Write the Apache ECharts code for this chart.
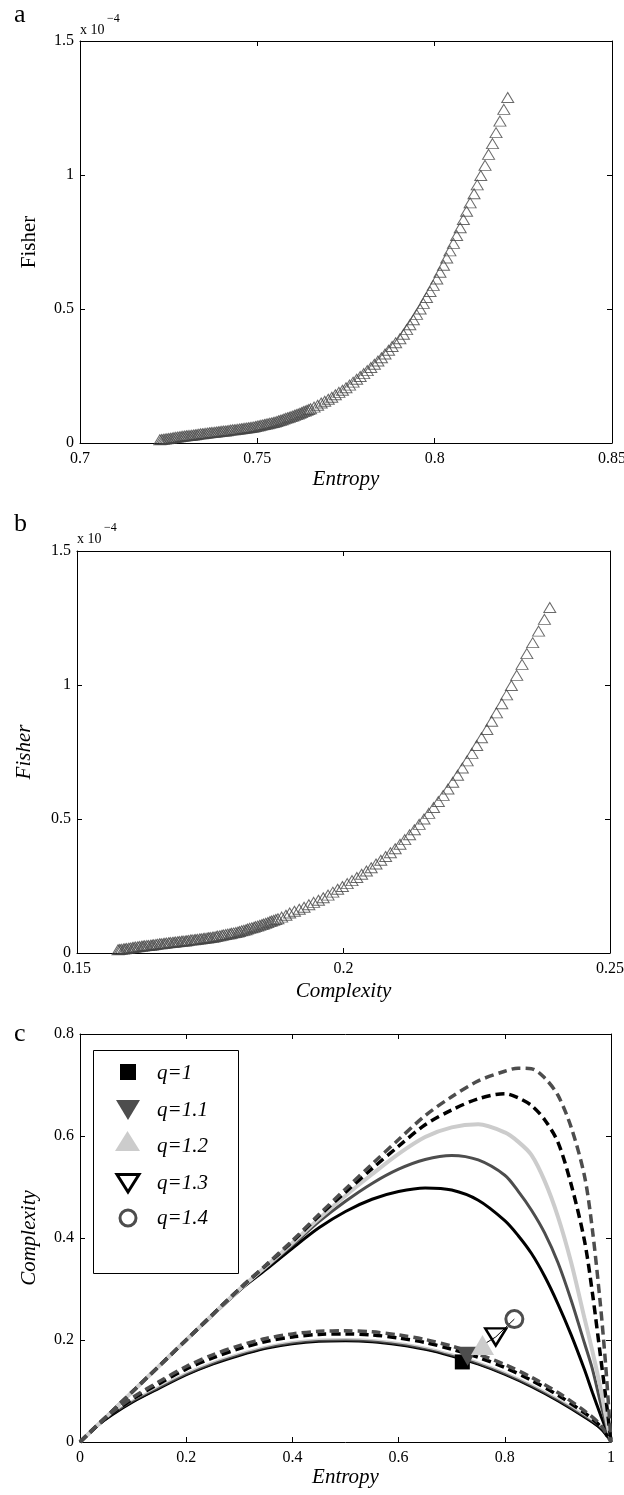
<!DOCTYPE html>
<html>
<head>
<meta charset="utf-8">
<script src="https://cdn.jsdelivr.net/npm/echarts@6.0.0/dist/echarts.min.js"></script>
<style>
html, body { margin: 0; padding: 0; background: #fff; }
#chart { width: 624px; height: 1495px; }
</style>
</head>
<body>
<div id="chart"></div>
<script>
var serif = '"Liberation Serif", "DejaVu Serif", serif';

// panels a and b: one triangle per step, Fisher given in units of 1e-4
var entropyA = [
  0.7225, 0.7230, 0.7235, 0.7240, 0.7245, 0.7250, 0.7255, 0.7260, 0.7265, 0.7270,
  0.7275, 0.7280, 0.7285, 0.7290, 0.7295, 0.7300, 0.7305, 0.7310, 0.7315, 0.7320,
  0.7325, 0.7330, 0.7335, 0.7340, 0.7345, 0.7350, 0.7355, 0.7360, 0.7365, 0.7370,
  0.7375, 0.7380, 0.7385, 0.7390, 0.7395, 0.7400, 0.7405, 0.7410, 0.7415, 0.7420,
  0.7425, 0.7430, 0.7435, 0.7440, 0.7445, 0.7450, 0.7455, 0.7460, 0.7465, 0.7470,
  0.7475, 0.7480, 0.7485, 0.7490, 0.7495, 0.7500, 0.7505, 0.7510, 0.7515, 0.7520,
  0.7525, 0.7530, 0.7535, 0.7540, 0.7545, 0.7550, 0.7555, 0.7560, 0.7565, 0.7570,
  0.7575, 0.7580, 0.7585, 0.7590, 0.7595, 0.7600, 0.7605, 0.7610, 0.7615, 0.7620,
  0.7625, 0.7630, 0.7635, 0.7640, 0.7645,
  0.765, 0.766, 0.767, 0.768, 0.769, 0.770, 0.771, 0.772, 0.773, 0.774,
  0.775, 0.776, 0.777, 0.778, 0.779, 0.780, 0.781, 0.782, 0.783, 0.784,
  0.785, 0.786, 0.787, 0.788, 0.789,
  0.7902, 0.7912, 0.7921, 0.7930, 0.7940, 0.7949, 0.7959, 0.7968, 0.7977, 0.7987,
  0.7996, 0.8006, 0.8015, 0.8025, 0.8034, 0.8043, 0.8053, 0.8062, 0.8072, 0.8081,
  0.8090, 0.8100, 0.8111, 0.8120, 0.8130, 0.8142, 0.8152, 0.8163, 0.8173, 0.8184,
  0.8195, 0.8206
];
var fisher = [
  0.0120, 0.0130, 0.0140, 0.0150, 0.0160, 0.0170, 0.0180, 0.0190, 0.0200, 0.0210,
  0.0220, 0.0230, 0.0240, 0.0250, 0.0260, 0.0270, 0.0275, 0.0280, 0.0290, 0.0300,
  0.0310, 0.0320, 0.0330, 0.0340, 0.0345, 0.0350, 0.0360, 0.0370, 0.0380, 0.0390,
  0.0395, 0.0400, 0.0410, 0.0420, 0.0430, 0.0440, 0.0445, 0.0450, 0.0460, 0.0470,
  0.0480, 0.0490, 0.0495, 0.0500, 0.0510, 0.0520, 0.0530, 0.0540, 0.0550, 0.0560,
  0.0570, 0.0580, 0.0590, 0.0600, 0.0615, 0.0630, 0.0645, 0.0660, 0.0675, 0.0690,
  0.0705, 0.0720, 0.0735, 0.0750, 0.0765, 0.0780, 0.0805, 0.0830, 0.0850, 0.0870,
  0.0895, 0.0920, 0.0940, 0.0960, 0.0985, 0.1010, 0.1035, 0.1060, 0.1085, 0.1110,
  0.1140, 0.1170, 0.1195, 0.1220, 0.1250,
  0.128, 0.134, 0.141, 0.149, 0.156, 0.163, 0.171, 0.180, 0.189, 0.197,
  0.206, 0.216, 0.227, 0.238, 0.248, 0.259, 0.270, 0.282, 0.294, 0.306,
  0.318, 0.332, 0.346, 0.360, 0.374,
  0.389, 0.406, 0.423, 0.441, 0.460, 0.480, 0.500, 0.521, 0.543, 0.565,
  0.588, 0.612, 0.637, 0.663, 0.690, 0.717, 0.745, 0.774, 0.803, 0.834,
  0.865, 0.896, 0.930, 0.963, 0.998, 1.036, 1.077, 1.117, 1.158, 1.201,
  1.245, 1.289
];
var complexityB = [
  0.1577, 0.1580, 0.1583, 0.1587, 0.1590, 0.1593, 0.1597, 0.1600, 0.1604, 0.1607,
  0.1610, 0.1614, 0.1617, 0.1621, 0.1624, 0.1627, 0.1631, 0.1634, 0.1638, 0.1641,
  0.1644, 0.1648, 0.1651, 0.1655, 0.1658, 0.1662, 0.1665, 0.1668, 0.1672, 0.1675,
  0.1679, 0.1682, 0.1685, 0.1689, 0.1692, 0.1696, 0.1699, 0.1703, 0.1706, 0.1709,
  0.1713, 0.1716, 0.1720, 0.1723, 0.1726, 0.1730, 0.1733, 0.1737, 0.1740, 0.1744,
  0.1747, 0.1750, 0.1754, 0.1757, 0.1761, 0.1764, 0.1768, 0.1772, 0.1775, 0.1779,
  0.1783, 0.1787, 0.1790, 0.1794, 0.1798, 0.1802, 0.1805, 0.1809, 0.1813, 0.1817,
  0.1820, 0.1824, 0.1828, 0.1832, 0.1835, 0.1839, 0.1843, 0.1847, 0.1850, 0.1854,
  0.1858, 0.1862, 0.1865, 0.1869, 0.1873,
  0.1877, 0.1884, 0.1892, 0.1899, 0.1908, 0.1917, 0.1926, 0.1935, 0.1944, 0.1953,
  0.1962, 0.1971, 0.1980, 0.1989, 0.1998, 0.2007, 0.2016, 0.2025, 0.2034, 0.2043,
  0.2052, 0.2061, 0.2070, 0.2079, 0.2088,
  0.2097, 0.2106, 0.2115, 0.2124, 0.2133, 0.2142, 0.2151, 0.2160, 0.2169, 0.2178,
  0.2187, 0.2196, 0.2205, 0.2214, 0.2223, 0.2232, 0.2241, 0.2250, 0.2259, 0.2269,
  0.2278, 0.2287, 0.2297, 0.2306, 0.2315, 0.2325, 0.2335, 0.2344, 0.2355, 0.2366,
  0.2377, 0.2387
];

// panel c, upper curves (maximum complexity)
var hUpper = [0, 0.1, 0.2, 0.3, 0.35, 0.4, 0.45, 0.5, 0.55, 0.6, 0.65, 0.7, 0.75, 0.8,
  0.825, 0.85, 0.875, 0.9, 0.925, 0.95, 0.965, 0.98, 0.99, 1];
var cmaxQ10 = [0, 0.1, 0.2, 0.297, 0.338, 0.38, 0.42, 0.452, 0.476, 0.491, 0.498, 0.494, 0.474, 0.434,
  0.405, 0.37, 0.325, 0.271, 0.21, 0.142, 0.097, 0.054, 0.027, 0];
var cmaxQ11 = [0, 0.1, 0.2, 0.298, 0.342, 0.386, 0.432, 0.472, 0.507, 0.535, 0.554, 0.562, 0.553, 0.523,
  0.492, 0.455, 0.41, 0.352, 0.278, 0.194, 0.143, 0.078, 0.037, 0];
var cmaxQ12 = [0, 0.1, 0.2, 0.299, 0.344, 0.39, 0.438, 0.483, 0.525, 0.565, 0.598, 0.617, 0.623, 0.607,
  0.589, 0.563, 0.512, 0.442, 0.352, 0.243, 0.178, 0.107, 0.052, 0];
var cmaxQ13 = [0, 0.1, 0.2, 0.3, 0.346, 0.393, 0.443, 0.49, 0.536, 0.58, 0.622, 0.651, 0.673, 0.683,
  0.675, 0.66, 0.632, 0.588, 0.505, 0.395, 0.292, 0.17, 0.089, 0];
var cmaxQ14 = [0, 0.1, 0.2, 0.3, 0.347, 0.395, 0.446, 0.496, 0.545, 0.593, 0.64, 0.677, 0.708, 0.727,
  0.733, 0.732, 0.714, 0.68, 0.617, 0.522, 0.416, 0.27, 0.15, 0];

// panel c, lower curves (minimum complexity)
var hLower = [0, 0.03, 0.06, 0.1, 0.15, 0.2, 0.25, 0.3, 0.35, 0.4, 0.45, 0.5, 0.55, 0.6,
  0.65, 0.7, 0.75, 0.8, 0.85, 0.9, 0.95, 0.98, 1];
var cminQ10 = [0, 0.028, 0.051, 0.077, 0.104, 0.130, 0.151, 0.168, 0.182, 0.191, 0.196, 0.197, 0.195, 0.189,
  0.180, 0.167, 0.151, 0.131, 0.107, 0.079, 0.047, 0.025, 0];
var cminQ11 = [0, 0.029, 0.053, 0.079, 0.106, 0.132, 0.153, 0.170, 0.184, 0.193, 0.198, 0.199, 0.197, 0.191,
  0.182, 0.169, 0.153, 0.133, 0.109, 0.081, 0.049, 0.026, 0];
var cminQ12 = [0, 0.030, 0.055, 0.081, 0.108, 0.134, 0.155, 0.172, 0.186, 0.195, 0.200, 0.201, 0.199, 0.193,
  0.184, 0.171, 0.155, 0.135, 0.111, 0.083, 0.051, 0.027, 0];
var cminQ13 = [0, 0.030, 0.056, 0.085, 0.115, 0.143, 0.165, 0.183, 0.197, 0.206, 0.211, 0.212, 0.210, 0.204,
  0.195, 0.182, 0.166, 0.146, 0.121, 0.092, 0.057, 0.031, 0];
var cminQ14 = [0, 0.031, 0.058, 0.088, 0.119, 0.148, 0.171, 0.189, 0.203, 0.212, 0.217, 0.218, 0.216, 0.210,
  0.201, 0.188, 0.172, 0.152, 0.127, 0.097, 0.061, 0.034, 0];

// panel c, end points for each q
var qNames = ['q=1', 'q=1.1', 'q=1.2', 'q=1.3', 'q=1.4'];
var markEntropy = [0.720, 0.730, 0.758, 0.783, 0.818];
var markComplexity = [0.157, 0.168, 0.190, 0.206, 0.241];

function zip(xs, ys) {
  var out = [];
  for (var i = 0; i < xs.length; i++) out.push([xs[i], ys[i]]);
  return out;
}

function xAx(grid, min, max, step, pos, name, gap) {
  return {
    gridIndex: grid, type: 'value', min: min, max: max, interval: step, position: pos,
    axisLine: { onZero: false, lineStyle: { color: '#000', width: 1 } },
    axisTick: { inside: true, length: 5, lineStyle: { color: '#000' } },
    axisLabel: { show: pos === 'bottom', color: '#000', fontFamily: serif, fontSize: 16, margin: 8 },
    splitLine: { show: false },
    name: pos === 'bottom' ? name : '', nameLocation: 'middle', nameGap: gap,
    nameTextStyle: { color: '#000', fontFamily: serif, fontSize: 21, fontStyle: 'italic' }
  };
}
function yAx(grid, min, max, step, pos, name, gap, italic) {
  return {
    gridIndex: grid, type: 'value', min: min, max: max, interval: step, position: pos,
    axisLine: { onZero: false, lineStyle: { color: '#000', width: 1 } },
    axisTick: { inside: true, length: 5, lineStyle: { color: '#000' } },
    axisLabel: { show: pos === 'left', color: '#000', fontFamily: serif, fontSize: 16, margin: 6 },
    splitLine: { show: false },
    name: pos === 'left' ? name : '', nameLocation: 'middle', nameGap: gap,
    nameTextStyle: { color: '#000', fontFamily: serif, fontSize: 21, fontStyle: italic ? 'italic' : 'normal' }
  };
}

function triangles(xi, data) {
  return {
    type: 'scatter', xAxisIndex: xi, yAxisIndex: xi, data: data,
    symbol: 'triangle', symbolSize: [12, 10], silent: true,
    itemStyle: { color: 'rgba(0,0,0,0)', borderColor: '#454545', borderWidth: 1 }
  };
}
function curve(ys, xs, color, width, dashed, z) {
  return {
    type: 'line', xAxisIndex: 4, yAxisIndex: 4, data: zip(xs, ys),
    showSymbol: false, symbol: 'none', smooth: 0.3, silent: true, z: z,
    lineStyle: { color: color, width: width, type: dashed ? [9, 5] : 'solid', cap: 'butt' }
  };
}
function marker(i, symbol, size, rotate, fill, stroke, bw) {
  return {
    type: 'scatter', name: qNames[i], xAxisIndex: 4, yAxisIndex: 4,
    data: [[markEntropy[i], markComplexity[i]]],
    symbol: symbol, symbolSize: size, symbolRotate: rotate, silent: true, z: 10 + i,
    itemStyle: { color: fill, borderColor: stroke, borderWidth: bw, opacity: 1 }
  };
}

function txt(x, y, s, size, italic, align) {
  return {
    type: 'text', silent: true,
    style: {
      x: x, y: y, text: s, fill: '#000',
      font: (italic ? 'italic ' : '') + size + 'px ' + serif,
      align: align || 'left', verticalAlign: 'middle',
      textAlign: align || 'left', textVerticalAlign: 'middle'
    }
  };
}

var graphics = [
  txt(14, 15, 'a', 26), txt(80, 30, 'x 10', 14), txt(107, 19, '\u22124', 12),
  txt(14, 524, 'b', 26), txt(77, 539, 'x 10', 14), txt(104, 528, '\u22124', 12),
  txt(14, 1034, 'c', 26),
  // legend key of panel c
  { type: 'rect', silent: true, shape: { x: 93.5, y: 1050.5, width: 145, height: 223 },
    style: { fill: '#fff', stroke: '#000', lineWidth: 1 }, z: 50 },
  { type: 'rect', silent: true, shape: { x: 120, y: 1064, width: 16, height: 16 },
    style: { fill: '#000' }, z: 51 },
  { type: 'polygon', silent: true, shape: { points: [[116, 1100], [140, 1100], [128, 1120]] },
    style: { fill: '#4d4d4d' }, z: 51 },
  { type: 'polygon', silent: true, shape: { points: [[115, 1151], [140, 1151], [127.5, 1131]] },
    style: { fill: '#cccccc' }, z: 51 },
  { type: 'polygon', silent: true, shape: { points: [[117, 1174.5], [139, 1174.5], [128, 1192]] },
    style: { fill: '#fff', stroke: '#000', lineWidth: 3 }, z: 51 },
  { type: 'circle', silent: true, shape: { cx: 128, cy: 1218, r: 8 },
    style: { fill: '#fff', stroke: '#4d4d4d', lineWidth: 3 }, z: 51 }
];
var legendY = [1073, 1110, 1146, 1183, 1218];
for (var k = 0; k < qNames.length; k++) {
  var t = txt(157, legendY[k], qNames[k], 21, true);
  t.z = 51;
  graphics.push(t);
}

var option = {
  animation: false,
  backgroundColor: '#fff',
  textStyle: { fontFamily: serif },
  grid: [
    { left: 80, top: 41, width: 532, height: 402, outerBoundsMode: 'none' },
    { left: 77, top: 551, width: 533, height: 402, outerBoundsMode: 'none' },
    { left: 80, top: 1034, width: 531, height: 408, outerBoundsMode: 'none' }
  ],
  xAxis: [
    xAx(0, 0.7, 0.85, 0.05, 'bottom', 'Entropy', 26),
    xAx(0, 0.7, 0.85, 0.05, 'top', '', 0),
    xAx(1, 0.15, 0.25, 0.05, 'bottom', 'Complexity', 28),
    xAx(1, 0.15, 0.25, 0.05, 'top', '', 0),
    xAx(2, 0, 1, 0.2, 'bottom', 'Entropy', 22),
    xAx(2, 0, 1, 0.2, 'top', '', 0)
  ],
  yAxis: [
    yAx(0, 0, 1.5, 0.5, 'left', 'Fisher', 40, false),
    yAx(0, 0, 1.5, 0.5, 'right', '', 0, false),
    yAx(1, 0, 1.5, 0.5, 'left', 'Fisher', 42, true),
    yAx(1, 0, 1.5, 0.5, 'right', '', 0, false),
    yAx(2, 0, 0.8, 0.2, 'left', 'Complexity', 40, true),
    yAx(2, 0, 0.8, 0.2, 'right', '', 0, true)
  ],
  series: [
    triangles(0, zip(entropyA, fisher)),
    triangles(2, zip(complexityB, fisher)),
    curve(cminQ12, hLower, '#cccccc', 3, false, 2),
    curve(cminQ11, hLower, '#4d4d4d', 2, false, 3),
    curve(cminQ10, hLower, '#000000', 1.2, false, 4),
    curve(cminQ13, hLower, '#000000', 3.5, true, 5),
    curve(cminQ14, hLower, '#4d4d4d', 3.5, true, 6),
    curve(cmaxQ10, hUpper, '#000000', 3, false, 2),
    curve(cmaxQ11, hUpper, '#4d4d4d', 3, false, 3),
    curve(cmaxQ12, hUpper, '#cccccc', 4, false, 4),
    curve(cmaxQ13, hUpper, '#000000', 3.5, true, 5),
    curve(cmaxQ14, hUpper, '#4d4d4d', 3.5, true, 6),
    {
      type: 'line', xAxisIndex: 4, yAxisIndex: 4, data: zip(markEntropy, markComplexity),
      showSymbol: false, symbol: 'none', silent: true, z: 9,
      lineStyle: { color: '#000', width: 1 }
    },
    marker(0, 'rect', 15, 0, '#000', '#000', 0),
    marker(1, 'triangle', [22, 19], 180, '#4d4d4d', '#4d4d4d', 0),
    marker(2, 'triangle', [23, 20], 0, '#cccccc', '#cccccc', 0),
    marker(3, 'triangle', [21, 17], 180, 'rgba(0,0,0,0)', '#000', 2.5),
    marker(4, 'circle', 17, 0, 'rgba(0,0,0,0)', '#4d4d4d', 3)
  ],
  graphic: graphics
};

var chart = echarts.init(document.getElementById('chart'));
chart.setOption(option);
</script>
</body>
</html>
